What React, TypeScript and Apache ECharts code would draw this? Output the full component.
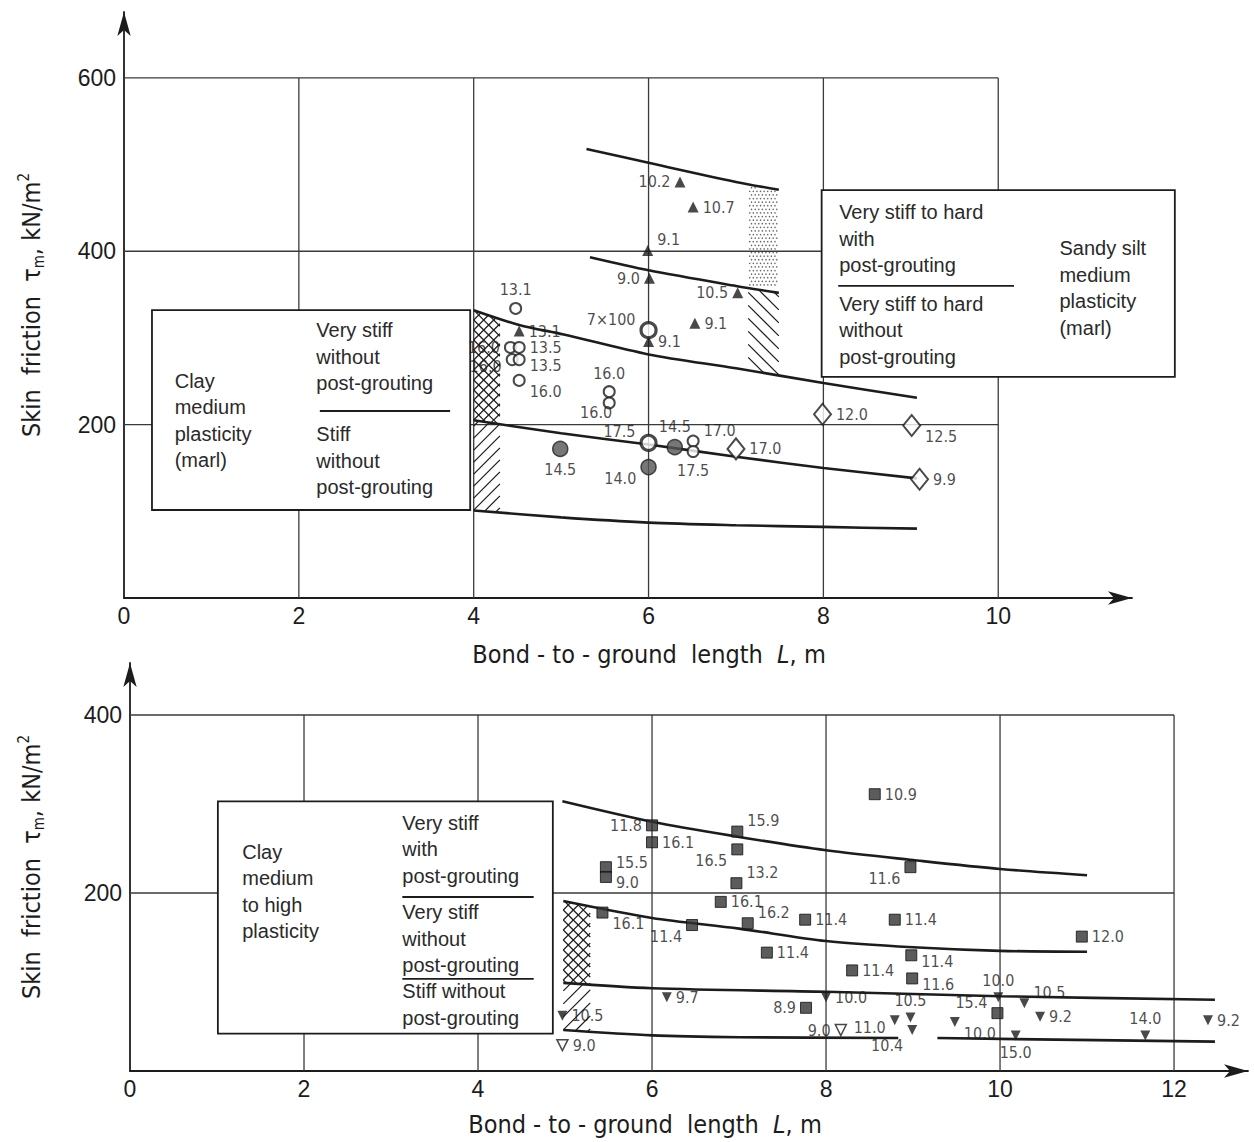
import { useEffect, useRef } from 'react';
import * as echarts from 'echarts';

const INK = '#1c1c1c';
const GRID_INK = '#3a3a3a';
const SANS = "'Liberation Sans', Arimo, 'DejaVu Sans', sans-serif";
const NARROW = "'Liberation Sans Narrow', 'DejaVu Sans Condensed', 'Liberation Sans', sans-serif";

// ================= Upper panel: clay / sandy silt (marl) =================
const topGridX = [2, 4, 6, 8, 10];
const topGridY = [200, 400, 600];
const topFrameEnd = [10, 600];

const topCurveGroutUpper = [[5.29, 518], [6, 502], [7, 480], [7.49, 471]];
const topCurveGroutLower = [[5.33, 393], [6, 378], [7, 360], [7.49, 352]];
const topCurveVeryStiff = [[4.0, 332], [4.52, 315], [5.03, 304], [6, 281], [7, 265], [8, 248], [9.07, 231]];
const topCurveStiff = [[4.0, 205], [5, 190], [6, 177], [7, 163], [8, 150], [9.07, 138]];
const topCurveLower = [[4.0, 101], [5, 93], [6, 87], [7, 84], [8, 82], [9.07, 80]];

// [x, y, label]
const topTriangles = [[6.36, 480, '10.2'], [6.51, 451, '10.7'], [5.99, 401, '9.1'], [6.01, 369, '9.0'], [7.02, 352, '10.5'], [6.53, 317, '9.1'], [6.0, 296, '9.1'], [4.52, 308, '13.1']];
const topTrianglePos = ['l', 'r', 'tr', 'l', 'l', 'r', 'r', 'r'];
const topOpenCircles = [[4.48, 334, '13.1'], [4.42, 289, '16.0'], [4.52, 289, '13.5'], [4.44, 275, '16.0'], [4.52, 275, '13.5'], [4.52, 251, '16.0'], [5.55, 238, '16.0'], [5.55, 225, ''], [6.51, 181, '17.0'], [6.51, 169, '17.5']];
const topOpenCirclePos = ['t', 'l', 'r', 'l+', 'r+', 'br', 't', 'r', 'tr', 'b'];
const topBoldCircles = [[6.0, 309, '7×100'], [6.0, 179, '17.5']];
const topBoldCirclePos = ['tl', 'tl'];
const topFilledCircles = [[6.3, 174, '14.5'], [4.99, 172, '14.5'], [6.0, 151, '14.0']];
const topFilledCirclePos = ['t', 'b', 'bl'];
const topDiamonds = [[7.0, 172, '17.0'], [7.99, 212, '12.0'], [9.01, 199, '12.5'], [9.1, 137, '9.9']];
const topDiamondPos = ['r', 'r', 'br', 'r'];
const topTextOnly = [[5.4, 200, '16.0']];
const topTextOnlyPos = ['t'];

// annotation geometry (data units)
const topBoxes = [[0.32, 101.5, 3.96, 332], [7.98, 255, 12.02, 470.6]];
const topDividers = [[2.24, 215.7, 3.73, 215.7], [8.17, 360, 10.18, 360]];
const topBoxTexts: [number, number, string][] = [
  [0.58, 266, 'Clay\nmedium\nplasticity\n(marl)'],
  [2.2, 324, 'Very stiff\nwithout\npost-grouting'],
  [2.2, 204, 'Stiff\nwithout\npost-grouting'],
  [8.18, 460, 'Very stiff to hard\nwith\npost-grouting'],
  [8.18, 355, 'Very stiff to hard\nwithout\npost-grouting'],
  [10.7, 419, 'Sandy silt\nmedium\nplasticity\n(marl)'],
];
const topHatchSpan = [4.0, 4.3];
const topStippleSpan = [7.14, 7.49];

// ================= Lower panel: clay medium to high plasticity =================
const botGridX = [2, 4, 6, 8, 10, 12];
const botGridY = [200, 400];
const botFrameEnd = [12, 400];

const botCurveWithGrout = [[4.97, 303], [6, 280], [7, 263], [8, 248], [9, 237], [10, 227], [11.0, 220]];
const botCurveVeryStiff = [[4.98, 191], [6, 172], [7, 160], [8, 146], [9, 139], [10, 135], [11.0, 134]];
const botCurveStiff = [[4.98, 99], [6, 93], [8, 89], [10, 84], [12.47, 80]];
const botCurveLowerA = [[4.98, 46], [6, 40], [7, 38], [8.83, 37]];
const botCurveLowerB = [[9.28, 37], [12.47, 33]];

const botSquares = [[6.0, 276, '11.8'], [6.0, 257, '16.1'], [6.98, 269, '15.9'], [6.98, 249, '16.5'], [5.47, 229, '15.5'], [5.47, 218, '9.0'], [6.97, 211, '13.2'], [6.79, 190, '16.1'], [5.43, 178, '16.1'], [6.46, 164, '11.4'], [7.1, 166, '16.2'], [7.76, 170, '11.4'], [8.79, 170, '11.4'], [7.32, 133, '11.4'], [8.56, 311, '10.9'], [8.97, 229, '11.6'], [10.94, 151, '12.0'], [8.98, 130, '11.4'], [8.3, 113, '11.4'], [8.99, 104, '11.6'], [7.77, 71, '8.9'], [9.97, 65, '15.4']];
const botSquarePos = ['l', 'r', 'tr', 'bl', 'r-', 'r+', 'tr', 'r', 'br', 'bl', 'tr', 'r', 'r', 'r', 'r', 'bl', 'r', 'r+', 'r', 'r+', 'l', 'tl'];
const botDownTriangles = [[4.97, 62, '10.5'], [6.17, 83, '9.7'], [8.0, 83, '10.0'], [8.79, 57, '11.0'], [8.97, 60, '10.5'], [8.99, 46, '10.4'], [9.48, 55, '10.0'], [9.98, 83, '10.0'], [10.28, 76, '10.5'], [10.46, 61, '9.2'], [10.18, 40, '15.0'], [11.67, 40, '14.0'], [12.39, 57, '9.2']];
const botDownTrianglePos = ['r', 'r', 'r', 'l+', 't', 'bl2', 'br', 't', 'tr', 'r', 'b', 't', 'r'];
const botOpenDownTriangles = [[4.97, 29, '9.0'], [8.17, 46, '9.0']];
const botOpenDownTrianglePos = ['r', 'l'];

const botBoxes = [[1.01, 42, 4.86, 303]];
const botDividers = [[3.13, 195.5, 4.64, 195.5], [3.13, 103.4, 4.64, 103.4]];
const botBoxTexts: [number, number, string][] = [
  [1.29, 261, 'Clay\nmedium\nto high\nplasticity'],
  [3.13, 294, 'Very stiff\nwith\npost-grouting'],
  [3.13, 193, 'Very stiff\nwithout\npost-grouting'],
  [3.13, 104.5, 'Stiff without\npost-grouting'],
];
const botHatchSpan = [4.98, 5.29];

// ================= helpers =================
const POS: Record<string, [string, number[]]> = {
  r: ['right', [0, 0]], l: ['left', [0, 0]], t: ['top', [0, 0]], b: ['bottom', [0, 0]],
  tr: ['right', [0, -11]], br: ['right', [0, 11]], tl: ['left', [0, -11]], bl: ['left', [0, 11]],
  'r+': ['right', [0, 6]], 'r-': ['right', [0, -5]], 'l+': ['left', [0, 7]], bl2: ['left', [0, 15]],
};

function curveAt(curve: number[][], x: number) {
  if (x <= curve[0][0]) return curve[0][1];
  for (let i = 0; i < curve.length - 1; i++) {
    const [x0, y0] = curve[i];
    const [x1, y1] = curve[i + 1];
    if (x >= x0 && x <= x1) return y0 + (y1 - y0) * (x - x0) / (x1 - x0);
  }
  return curve[curve.length - 1][1];
}

function keepPositive(lo: number, hi: number, fLo: number, fHi: number) {
  if (fLo < 0 && fHi < 0) return null;
  if (fLo >= 0 && fHi >= 0) return [lo, hi];
  const xm = lo + (hi - lo) * (fLo / (fLo - fHi));
  return fLo >= 0 ? [lo, xm] : [xm, hi];
}

function seg(p: number[], q: number[], style: any) {
  return { type: 'line', shape: { x1: p[0], y1: p[1], x2: q[0], y2: q[1] }, style };
}

function hatch(api: any, span: number[], upper: number[][], lower: number[][], slopes: number[], gap: number) {
  const [x0, x1] = span;
  const tl = api.coord([x0, curveAt(upper, x0)]);
  const tr = api.coord([x1, curveAt(upper, x1)]);
  const bl = api.coord([x0, curveAt(lower, x0)]);
  const br = api.coord([x1, curveAt(lower, x1)]);
  const xa = tl[0], xb = tr[0], w = xb - xa;
  const out: any[] = [];
  const style = { stroke: INK, lineWidth: 1.2 };
  slopes.forEach((s) => {
    const cMin = Math.min(tl[1], tr[1]) - w - 4;
    const cMax = Math.max(bl[1], br[1]) + w + 4;
    for (let c = cMin; c <= cMax; c += gap) {
      const ya = c, yb = c + s * w;
      const a = keepPositive(xa, xb, ya - tl[1], yb - tr[1]);
      const b = keepPositive(xa, xb, bl[1] - ya, br[1] - yb);
      if (!a || !b) continue;
      const l = Math.max(a[0], b[0]), r = Math.min(a[1], b[1]);
      if (r - l < 1) continue;
      out.push(seg([l, c + s * (l - xa)], [r, c + s * (r - xa)], style));
    }
  });
  return out;
}

function stipple(api: any, span: number[], upper: number[][], lower: number[][], step: number) {
  const [x0, x1] = span;
  const xa = api.coord([x0, 0])[0], xb = api.coord([x1, 0])[0];
  const out: any[] = [];
  let row = 0;
  const top0 = api.coord([x0, curveAt(upper, x0)])[1];
  const bot0 = api.coord([x0, curveAt(lower, x0)])[1];
  for (let py = Math.min(top0, api.coord([x1, curveAt(upper, x1)])[1]); py < bot0; py += step, row++) {
    for (let px = xa + 1.5 + (row % 2) * step / 2; px < xb - 0.5; px += step) {
      const x = x0 + (px - xa) / (xb - xa) * (x1 - x0);
      const top = api.coord([x, curveAt(upper, x)])[1];
      const bot = api.coord([x, curveAt(lower, x)])[1];
      if (py < top + 2 || py > bot - 1) continue;
      out.push({ type: 'circle', shape: { cx: px, cy: py, r: 0.75 }, style: { fill: '#666' } });
    }
  }
  return out;
}

function frameLayer(gx: number[], gy: number[], end: number[]) {
  return (_p: any, api: any) => {
    const st = { stroke: GRID_INK, lineWidth: 1.3 };
    const ch: any[] = [];
    gx.forEach((x) => ch.push(seg(api.coord([x, 0]), api.coord([x, end[1]]), st)));
    gy.forEach((y) => ch.push(seg(api.coord([0, y]), api.coord([end[0], y]), st)));
    return { type: 'group', children: ch };
  };
}

function boxesAndTexts(api: any, boxes: number[][], dividers: number[][], texts: [number, number, string][]) {
  const ch: any[] = [];
  boxes.forEach(([x0, y0, x1, y1]) => {
    const a = api.coord([x0, y1]);
    const b = api.coord([x1, y0]);
    ch.push({ type: 'rect', shape: { x: a[0], y: a[1], width: b[0] - a[0], height: b[1] - a[1] }, style: { fill: '#fff', stroke: INK, lineWidth: 1.8 } });
  });
  dividers.forEach(([x0, y0, x1, y1]) => ch.push(seg(api.coord([x0, y0]), api.coord([x1, y1]), { stroke: INK, lineWidth: 1.8 })));
  texts.forEach(([x, y, t]) => {
    const p = api.coord([x, y]);
    ch.push({ type: 'text', x: p[0], y: p[1], style: { text: t, fill: '#2a2a2a', fontSize: 20, fontFamily: SANS, lineHeight: 26.5, align: 'left', verticalAlign: 'top' } });
  });
  return ch;
}

function curve(axis: number, data: number[][]) {
  return { type: 'line', xAxisIndex: axis, yAxisIndex: axis, data, smooth: 0.3, symbol: 'none', silent: true, z: 3, lineStyle: { color: INK, width: 2.6 } };
}

function points(axis: number, list: any[][], pos: string[], symbol: string, size: any, itemStyle: any, rotate = 0) {
  return {
    type: 'scatter', xAxisIndex: axis, yAxisIndex: axis, symbol, symbolSize: size, symbolRotate: rotate, z: 6, silent: true,
    itemStyle,
    label: { show: true, formatter: '{b}', fontSize: 16, fontFamily: NARROW, color: INK, distance: 4 },
    data: list.map((d, i) => {
      const [p, o] = POS[pos[i]];
      return { name: d[2], value: [d[0], d[1]], label: { position: p, offset: o } };
    }),
  };
}

const tickFont = { color: INK, fontSize: 23, fontFamily: SANS };

function xAxis(grid: number, max: number, gap: number, pad: number[]) {
  return {
    type: 'value', gridIndex: grid, min: 0, max, interval: 2,
    axisLine: { show: true, onZero: false, symbol: ['none', 'arrow'], symbolSize: [10, 24], lineStyle: { color: INK, width: 1.8 } },
    axisTick: { show: false }, splitLine: { show: false },
    axisLabel: { ...tickFont, margin: 6, formatter: (v: number) => (Math.abs(v % 2) < 1e-6 ? String(v) : '') },
    name: 'Bond - to - ground  length  {it|L}, m', nameLocation: 'middle', nameGap: gap, nameMoveOverlap: false,
    nameTextStyle: { color: INK, fontSize: 25, fontFamily: NARROW, padding: pad, rich: { it: { fontStyle: 'italic', fontSize: 25, fontFamily: NARROW, color: INK } } },
  };
}

function yAxis(grid: number, max: number, gap: number) {
  return {
    type: 'value', gridIndex: grid, min: 0, max, interval: 200,
    axisLine: { show: true, onZero: false, symbol: ['none', 'arrow'], symbolSize: [10, 24], lineStyle: { color: INK, width: 1.8 } },
    axisTick: { show: false }, splitLine: { show: false },
    axisLabel: { ...tickFont, margin: 8, formatter: (v: number) => (v > 0 && Math.abs(v % 200) < 1e-6 ? String(v) : '') },
    name: 'Skin  friction  τ{sub|m}, kN/m{sup|2}', nameLocation: 'middle', nameRotate: 90, nameGap: gap, nameMoveOverlap: false,
    nameTextStyle: {
      color: INK, fontSize: 25, fontFamily: NARROW, lineHeight: 30,
      rich: {
        sub: { fontSize: 15, fontFamily: NARROW, color: INK, verticalAlign: 'bottom', lineHeight: 30 },
        sup: { fontSize: 15, fontFamily: NARROW, color: INK, verticalAlign: 'top', lineHeight: 30 },
      },
    },
  };
}

function buildOption() {
  const openStyle = { color: '#fff', borderColor: INK, borderWidth: 2 };
  return {
    animation: false,
    backgroundColor: '#fff',
    grid: [
      { left: 124, top: 12, width: 1008, height: 586 },
      { left: 130, top: 663, width: 1118, height: 408 },
    ],
    xAxis: [xAxis(0, 11.53, 44, [0, 0, 0, 42]), xAxis(1, 12.85, 41, [0, 88, 0, 0])],
    yAxis: [yAxis(0, 676, 78), yAxis(1, 458.4, 84)],
    series: [
      { type: 'custom', xAxisIndex: 0, yAxisIndex: 0, z: 1, silent: true, data: [[0, 0]], renderItem: frameLayer(topGridX, topGridY, topFrameEnd) },
      { type: 'custom', xAxisIndex: 1, yAxisIndex: 1, z: 1, silent: true, data: [[0, 0]], renderItem: frameLayer(botGridX, botGridY, botFrameEnd) },

      curve(0, topCurveGroutUpper), curve(0, topCurveGroutLower), curve(0, topCurveVeryStiff), curve(0, topCurveStiff), curve(0, topCurveLower),
      curve(1, botCurveWithGrout), curve(1, botCurveVeryStiff), curve(1, botCurveStiff), curve(1, botCurveLowerA), curve(1, botCurveLowerB),

      {
        type: 'custom', xAxisIndex: 0, yAxisIndex: 0, z: 4, silent: true, data: [[0, 0]],
        renderItem: (_p: any, api: any) => ({
          type: 'group',
          children: [
            ...hatch(api, topHatchSpan, topCurveVeryStiff, topCurveStiff, [-1, 1], 10),
            ...hatch(api, topHatchSpan, topCurveStiff, topCurveLower, [-1], 12),
            ...stipple(api, topStippleSpan, topCurveGroutUpper, topCurveGroutLower, 3.6),
            ...hatch(api, topStippleSpan, topCurveGroutLower, topCurveVeryStiff, [1], 13),
            ...boxesAndTexts(api, topBoxes, topDividers, topBoxTexts),
          ],
        }),
      },
      {
        type: 'custom', xAxisIndex: 1, yAxisIndex: 1, z: 4, silent: true, data: [[0, 0]],
        renderItem: (_p: any, api: any) => ({
          type: 'group',
          children: [
            ...hatch(api, botHatchSpan, botCurveVeryStiff, botCurveStiff, [-1, 1], 10),
            ...hatch(api, botHatchSpan, botCurveStiff, botCurveLowerA, [-1], 13),
            ...boxesAndTexts(api, botBoxes, botDividers, botBoxTexts),
          ],
        }),
      },

      points(0, topTriangles, topTrianglePos, 'triangle', 11, { color: INK }),
      points(0, topOpenCircles, topOpenCirclePos, 'circle', 11, openStyle),
      points(0, topBoldCircles, topBoldCirclePos, 'circle', 15, { color: '#fff', borderColor: INK, borderWidth: 3.2 }),
      points(0, topFilledCircles, topFilledCirclePos, 'circle', 15, { color: '#555', borderColor: '#222', borderWidth: 1.5 }),
      points(0, topDiamonds, topDiamondPos, 'diamond', [17, 21], openStyle),
      points(0, topTextOnly, topTextOnlyPos, 'circle', 1, { color: 'rgba(0,0,0,0)' }),

      points(1, botSquares, botSquarePos, 'rect', 11, { color: '#333', borderColor: '#111', borderWidth: 1 }),
      points(1, botDownTriangles, botDownTrianglePos, 'triangle', 10, { color: INK }, 180),
      points(1, botOpenDownTriangles, botOpenDownTrianglePos, 'triangle', 11, { color: '#fff', borderColor: INK, borderWidth: 1.5 }, 180),
    ],
  };
}

export default function App() {
  const ref = useRef<HTMLDivElement>(null);
  useEffect(() => {
    const chart = echarts.init(ref.current!, null, { renderer: 'svg' });
    chart.setOption(buildOption() as any);
    return () => chart.dispose();
  }, []);
  return <div ref={ref} style={{ position: 'absolute', left: 0, top: 0, width: 1254, height: 1142, background: '#fff' }} />;
}
